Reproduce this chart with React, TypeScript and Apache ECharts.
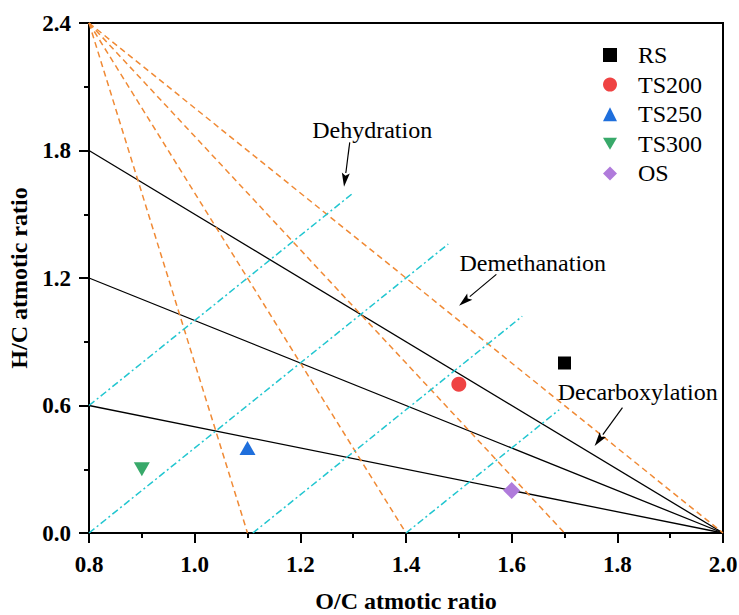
import React, { useEffect, useRef } from "react";
import * as echarts from "echarts";

// Van Krevelen diagram data
const seriesNames = ["RS", "TS200", "TS250", "TS300", "OS"];
const ocValues = [1.7, 1.5, 1.1, 0.9, 1.6];
const hcValues = [0.8, 0.7, 0.4, 0.3, 0.2];
const seriesColors = ["#000000", "#EF4343", "#1F6FDC", "#38A96A", "#B07BDB"];

// Reference lines
const decarbStartHC = [1.8, 1.2, 0.6]; // at O/C = 0.8, converging to (2.0, 0)
const decarbStartOC = 0.8;
const convergeOC = 2.0;
const convergeHC = 0.0;
const demethOriginOC = 0.8;
const demethOriginHC = 2.4;
const demethEndOC = [1.1, 1.4, 1.7, 2.0]; // x-intercepts
const dehydStartOC = [0.8, 0.8, 1.11, 1.4];
const dehydStartHC = [0.6, 0.0, 0.0, 0.0];
const dehydEndOC = [1.3, 1.48, 1.62, 1.69];
const dehydEndHC = [1.6, 1.36, 1.02, 0.58];

// Annotations
const annotationNames = ["Dehydration", "Demethanation", "Decarboxylation"];
const annotationOC = [1.336, 1.64, 1.8386];
const annotationHC = [1.895, 1.272, 0.6656];
const arrowFromOC = [1.2935, 1.571, 1.8097];
const arrowFromHC = [1.838, 1.217, 0.59];
const arrowToOC = [1.2827, 1.5004, 1.757];
const arrowToHC = [1.629, 1.07, 0.41];

const FONT = "Liberation Serif, Times New Roman, serif";

export default function App() {
  const ref = useRef<HTMLDivElement>(null);

  useEffect(() => {
    document.body.style.margin = "0";
    const chart = echarts.init(ref.current!, undefined, { renderer: "svg" });

    const symbols: any[] = ["rect", "circle", "triangle", "path://M0,0L20,0L10,17Z", "diamond"];
    const symbolSizes: any[] = [13, 15, [16, 14], [16, 14], 17];

    const lineSeries: any[] = [];
    decarbStartHC.forEach((h, i) => {
      lineSeries.push({
        name: "decarb" + i,
        type: "line",
        data: [
          [decarbStartOC, h],
          [convergeOC, convergeHC],
        ],
        symbol: "none",
        silent: true,
        lineStyle: { color: "#000", width: 1.3 },
        z: 2,
      });
    });
    demethEndOC.forEach((x, i) => {
      lineSeries.push({
        name: "demeth" + i,
        type: "line",
        data: [
          [demethOriginOC, demethOriginHC],
          [x, 0],
        ],
        symbol: "none",
        silent: true,
        lineStyle: { color: "#F08A35", width: 1.5, type: [6, 4] },
        z: 2,
      });
    });
    dehydStartOC.forEach((x, i) => {
      lineSeries.push({
        name: "dehyd" + i,
        type: "line",
        data: [
          [x, dehydStartHC[i]],
          [dehydEndOC[i], dehydEndHC[i]],
        ],
        symbol: "none",
        silent: true,
        lineStyle: { color: "#22C6D0", width: 1.5, type: [7, 3, 2, 3] },
        z: 2,
      });
    });

    const scatterSeries = seriesNames.map((n, i) => ({
      name: n,
      type: "scatter",
      data: [[ocValues[i], hcValues[i]]],
      symbol: symbols[i],
      symbolSize: symbolSizes[i],
      itemStyle: { color: seriesColors[i], opacity: 1 },
      z: 5,
    }));

    chart.setOption({
      animation: false,
      textStyle: { fontFamily: FONT },
      grid: {
        left: 89,
        top: 23,
        width: 634,
        height: 510,
        containLabel: false,
        outerBoundsMode: "none",
        show: true,
        borderColor: "#000",
        borderWidth: 2,
      },
      legend: {
        data: seriesNames,
        orient: "vertical",
        left: 598,
        top: 38,
        itemWidth: 14,
        itemHeight: 14,
        itemGap: 5.6,
        formatter: (name: string) => "{t|" + name + "}",
        textStyle: {
          fontFamily: FONT,
          fontSize: 24,
          color: "#000",
          rich: {
            t: { fontFamily: FONT, fontSize: 24, color: "#000", lineHeight: 22, padding: [0, 0, 0, 16] },
          },
        },
      },
      xAxis: {
        type: "value",
        min: 0.8,
        max: 2.0,
        interval: 0.2,
        name: "O/C atmotic ratio",
        nameLocation: "middle",
        nameGap: 56,
        nameTextStyle: { fontFamily: FONT, fontSize: 24, fontWeight: "bold", color: "#000" },
        axisLine: { lineStyle: { color: "#000", width: 2 } },
        axisTick: { length: 10, lineStyle: { width: 2, color: "#000" } },
        minorTick: { show: true, splitNumber: 2, length: 5, lineStyle: { width: 2, color: "#000" } },
        splitLine: { show: false },
        axisLabel: {
          fontFamily: FONT,
          fontSize: 23,
          fontWeight: "bold",
          color: "#000",
          margin: 20,
          formatter: (v: number) => v.toFixed(1),
        },
      },
      yAxis: {
        type: "value",
        min: 0,
        max: 2.4,
        interval: 0.6,
        name: "H/C atmotic ratio",
        nameLocation: "middle",
        nameGap: 54,
        nameTextStyle: { fontFamily: FONT, fontSize: 24, fontWeight: "bold", color: "#000" },
        axisLine: { lineStyle: { color: "#000", width: 2 } },
        axisTick: { length: 10, lineStyle: { width: 2, color: "#000" } },
        minorTick: { show: true, splitNumber: 2, length: 5, lineStyle: { width: 2, color: "#000" } },
        splitLine: { show: false },
        axisLabel: {
          fontFamily: FONT,
          fontSize: 23,
          fontWeight: "bold",
          color: "#000",
          margin: 18,
          formatter: (v: number) => v.toFixed(1),
        },
      },
      series: [...lineSeries, ...scatterSeries],
    });

    // Annotations drawn through the axes' own scales
    const graphics: any[] = [];
    annotationNames.forEach((name, i) => {
      const p = chart.convertToPixel({ gridIndex: 0 }, [annotationOC[i], annotationHC[i]]) as number[];
      graphics.push({
        type: "text",
        x: p[0],
        y: p[1],
        style: {
          text: name,
          fontFamily: FONT,
          fontSize: 24,
          fill: "#000",
          align: "center",
          verticalAlign: "middle",
        },
        z: 10,
      });
      const a = chart.convertToPixel({ gridIndex: 0 }, [arrowFromOC[i], arrowFromHC[i]]) as number[];
      const b = chart.convertToPixel({ gridIndex: 0 }, [arrowToOC[i], arrowToHC[i]]) as number[];
      const dx = b[0] - a[0];
      const dy = b[1] - a[1];
      const len = Math.sqrt(dx * dx + dy * dy);
      const ux = dx / len;
      const uy = dy / len;
      const headLen = 14;
      const headHalf = 4;
      const bx = b[0] - ux * headLen;
      const by = b[1] - uy * headLen;
      graphics.push({
        type: "line",
        shape: { x1: a[0], y1: a[1], x2: bx, y2: by },
        style: { stroke: "#000", lineWidth: 1.2 },
        z: 10,
      });
      graphics.push({
        type: "polygon",
        shape: {
          points: [
            [b[0], b[1]],
            [bx - uy * headHalf, by + ux * headHalf],
            [b[0] - ux * headLen * 0.8, b[1] - uy * headLen * 0.8],
            [bx + uy * headHalf, by - ux * headHalf],
          ],
        },
        style: { fill: "#000" },
        z: 10,
      });
    });
    chart.setOption({ graphic: graphics });

    return () => chart.dispose();
  }, []);

  return <div ref={ref} style={{ width: 739, height: 615 }} />;
}
